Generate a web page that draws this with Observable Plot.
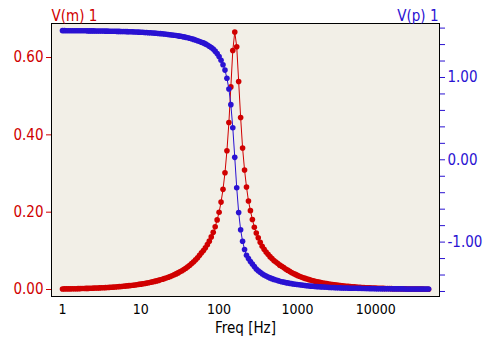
<!DOCTYPE html>
<html>
<head>
<meta charset="utf-8">
<script src="https://cdn.jsdelivr.net/npm/d3@7"></script>
<script src="https://cdn.jsdelivr.net/npm/@observablehq/plot@0.6"></script>
<style>
  html, body { margin: 0; padding: 0; background: #ffffff; }
  svg { display: block; }
</style>
</head>
<body>
<div id="chart"></div>
<script>
// Frequency sweep (Hz)
const freqHz = [1,1.059,1.122,1.189,1.259,1.334,1.413,1.496,1.585,1.679,1.778,1.884,1.995,2.113,2.239,2.371,2.512,2.661,2.818,2.985,3.162,3.350,3.548,3.758,3.981,4.217,4.467,4.732,5.012,5.309,5.623,5.957,6.310,6.683,7.079,7.499,7.943,8.414,8.913,9.441,
10,10.59,11.22,11.89,12.59,13.34,14.13,14.96,15.85,16.79,17.78,18.84,19.95,21.14,22.39,23.71,25.12,26.61,28.18,29.85,31.62,33.50,35.48,37.58,39.81,42.17,44.67,47.32,50.12,53.09,56.23,59.57,63.10,66.83,70.79,74.99,79.43,84.14,89.13,94.41,
100,105.9,112.2,118.9,125.9,133.4,141.3,149.6,158.5,167.9,177.8,188.4,199.5,211.4,223.9,237.1,251.2,266.1,281.8,298.5,316.2,335.0,354.8,375.8,398.1,421.7,446.7,473.2,501.2,530.9,562.3,595.7,631.0,668.3,707.9,749.9,794.3,841.4,891.3,944.1,
1000,1059,1122,1189,1259,1334,1413,1496,1585,1679,1778,1884,1995,2113,2239,2371,2512,2661,2818,2985,3162,3350,3548,3758,3981,4217,4467,4732,5012,5309,5623,5957,6310,6683,7079,7499,7943,8414,8913,9441,
10000,10590,11220,11890,12590,13340,14130,14960,15850,16790,17780,18840,19950,21140,22390,23710,25120,26610,28180,29850,31620,33500,35480,37580,39810,42170,44670,47320];

// V(m) 1 : magnitude (left axis)
const vm = [.0014,.0015,.0016,.0017,.0017,.0019,.0020,.0021,.0022,.0023,.0025,.0026,.0028,.0029,.0031,.0033,.0035,.0037,.0039,.0042,.0044,.0047,.0049,.0052,.0055,.0059,.0062,.0066,.0070,.0074,.0078,.0083,.0088,.0093,.0099,.0104,.0111,.0117,.0124,.0132,
.0139,.0148,.0157,.0166,.0176,.0187,.0198,.0210,.0222,.0236,.0250,.0265,.0282,.0299,.0317,.0337,.0357,.0380,.0404,.0429,.0456,.0486,.0517,.0551,.0588,.0627,.0670,.0716,.0767,.0823,.0884,.0951,.101,.108,.116,.125,.136,.148,.162,.180,
.200,.226,.259,.302,.359,.432,.524,.618,.666,.628,.538,.445,.366,.309,.265,.229,.204,.181,.161,.146,.134,.122,.112,.104,.097,.091,.085,.080,.075,.071,.067,.063,.060,.057,.053,.050,.047,.044,.0415,.039,
.0365,.0343,.0324,.0305,.0287,.0271,.0255,.0241,.0227,.0214,.0202,.0190,.0179,.0169,.0160,.0151,.0142,.0134,.0127,.0119,.0113,.0106,.0100,.0095,.0089,.0084,.0080,.0075,.0071,.0067,.0063,.0060,.0056,.0053,.0050,.0047,.0045,.0042,.0040,.0038,
.0036,.0034,.0032,.0030,.0028,.0027,.0025,.0024,.0022,.0021,.0020,.0019,.0018,.0017,.0016,.0015,.0014,.0013,.0013,.0012,.0011,.0011,.0010,.0009,.0009,.0008,.0008,.0008];

// V(p) 1 : phase (right axis)
const vp = [1.569,1.569,1.568,1.568,1.568,1.568,1.568,1.568,1.568,1.567,1.567,1.567,1.567,1.566,1.566,1.566,1.566,1.565,1.565,1.565,1.564,1.564,1.563,1.563,1.562,1.562,1.561,1.561,1.560,1.560,1.559,1.558,1.558,1.557,1.556,1.555,1.554,1.553,1.552,1.551,
1.550,1.549,1.547,1.546,1.544,1.543,1.541,1.539,1.537,1.535,1.533,1.531,1.529,1.526,1.523,1.520,1.517,1.514,1.510,1.506,1.502,1.498,1.493,1.488,1.483,1.477,1.470,1.463,1.455,1.447,1.438,1.428,1.420,1.408,1.395,1.380,1.365,1.345,1.320,1.290,
1.255,1.210,1.155,1.090,0.990,0.860,0.670,0.390,0.030,-0.340,-0.640,-0.850,-0.990,-1.090,-1.160,-1.200,-1.235,-1.267,-1.298,-1.326,-1.348,-1.367,-1.384,-1.399,-1.412,-1.424,-1.435,-1.444,-1.453,-1.461,-1.468,-1.475,-1.481,-1.486,-1.492,-1.496,-1.501,-1.505,-1.509,-1.513,
-1.516,-1.519,-1.522,-1.525,-1.528,-1.530,-1.533,-1.535,-1.537,-1.539,-1.541,-1.542,-1.544,-1.545,-1.547,-1.548,-1.550,-1.551,-1.552,-1.553,-1.554,-1.555,-1.556,-1.557,-1.557,-1.558,-1.559,-1.560,-1.560,-1.561,-1.561,-1.562,-1.562,-1.563,-1.563,-1.564,-1.564,-1.565,-1.565,-1.565,
-1.566,-1.566,-1.566,-1.566,-1.567,-1.567,-1.567,-1.567,-1.567,-1.568,-1.568,-1.568,-1.568,-1.568,-1.568,-1.569,-1.569,-1.569,-1.569,-1.569,-1.569,-1.569,-1.569,-1.569,-1.570,-1.570,-1.570,-1.570];

// Axis ticks / labels
const xTicks = [1, 10, 100, 1000, 10000];
const leftTicks = [0, 0.2, 0.4, 0.6];
const rightMajor = [-1, 0, 1];
const rightMinor = [-1.6,-1.4,-1.2,-0.8,-0.6,-0.4,-0.2,0.2,0.4,0.6,0.8,1.2,1.4,1.6];
const leftTitle = "V(m) 1";
const rightTitle = "V(p) 1";
const xTitle = "Freq [Hz]";

// Styles
const RED = "#d00000";
const BLUE = "#2a12d2";
const BG = "#f2efe7";

// scale domains
const xDomain = [0.7238, 65280];
const yDomain = [-0.0181, 0.688];       // left axis (V(m))
const pDomain = [-1.661, 1.656];        // right axis (V(p)), same pixel span
const p2v = p => yDomain[0] + (p - pDomain[0]) / (pDomain[1] - pDomain[0]) * (yDomain[1] - yDomain[0]);
const v2p = v => pDomain[0] + (v - yDomain[0]) / (yDomain[1] - yDomain[0]) * (pDomain[1] - pDomain[0]);

const rows = freqHz.map((f, i) => ({f, vm: vm[i], vp: vp[i], vpy: p2v(vp[i])}));

const chart = Plot.plot({
  width: 486,
  height: 337,
  marginLeft: 51,
  marginRight: 47,
  marginTop: 23,
  marginBottom: 41,
  style: {fontFamily: "'Liberation Sans Narrow', 'DejaVu Sans Condensed', 'Liberation Sans', sans-serif", fontSize: "15px", background: "#ffffff"},
  x: {type: "log", domain: xDomain},
  y: {domain: yDomain},
  marks: [
    Plot.frame({fill: BG, stroke: null}),
    Plot.line(rows, {x: "f", y: "vm", stroke: RED, strokeWidth: 1}),
    Plot.dot(rows, {x: "f", y: "vm", r: 2.8, fill: RED, stroke: null}),
    Plot.line(rows, {x: "f", y: "vpy", stroke: BLUE, strokeWidth: 1}),
    Plot.dot(rows, {x: "f", y: "vpy", r: 2.8, fill: BLUE, stroke: null}),
    Plot.frame({stroke: "#000000", strokeWidth: 1}),
    Plot.axisY(leftTicks, {anchor: "left", color: RED, tickSize: 5, tickPadding: 3, tickFormat: d => d.toFixed(2), label: null}),
    Plot.axisY(rightMajor.map(p2v), {anchor: "right", color: BLUE, tickSize: 5, tickPadding: 3,
      tickFormat: v => { const p = Math.round(v2p(v)); return (p === 0 ? 0 : p).toFixed(2); }, label: null}),
    Plot.axisY(rightMinor.map(p2v), {anchor: "right", color: BLUE, tickSize: 5, tickFormat: () => "", label: null}),
    Plot.axisX(xTicks, {anchor: "bottom", tickSize: 0, tickPadding: 8, fontSize: 14, tickFormat: d => String(d), label: null, color: "#000000"}),
    Plot.text([leftTitle], {frameAnchor: "top-left", textAnchor: "start", lineAnchor: "bottom", dy: -3, fill: RED}),
    Plot.text([rightTitle], {frameAnchor: "top-right", textAnchor: "end", lineAnchor: "bottom", dy: -3, dx: -1, fill: BLUE}),
    Plot.text([xTitle], {frameAnchor: "bottom", lineAnchor: "top", dy: 26, fill: "#000000"})
  ]
});
document.getElementById("chart").appendChild(chart);
</script>
</body>
</html>
